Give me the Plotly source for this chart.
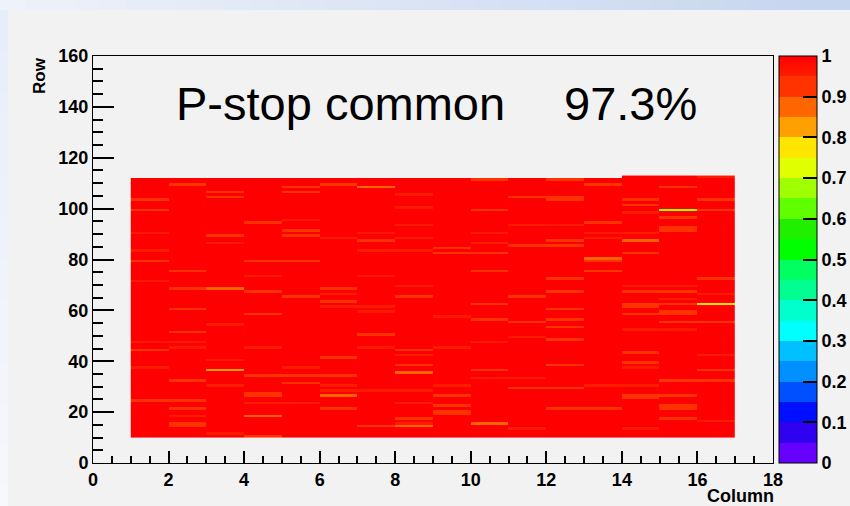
import numpy as np
import plotly.graph_objects as go

# ---------------- data ----------------
columns = list(range(1, 17))          # column bins [c, c+1)
rows = list(range(10, 113))           # row bins [r, r+1)
tall_columns = [14, 15, 16]           # columns that also have row 112

# per column: (row, efficiency) for rows that are not fully efficient (default 1.0)
col01 = [(103, .93), (99, .93), (90, .952), (83, .952), (79, .93), (71, .952), (47, .952), (44, .93), (37, .952), (24, .93)]
col02 = [(109, .93), (75, .93), (68, .93), (60, .93), (51, .93), (47, .952), (45, .952), (32, .93), (24, .93), (21, .93), (18, .952), (15, .93), (14, .93)]
col03 = [(106, .93), (104, .93), (89, .92), (86, .952), (68, .87), (54, .952), (40, .952), (36, .83), (30, .952), (11, .952)]
col04 = [(94, .93), (79, .93), (73, .952), (67, .92), (58, .93), (45, .952), (34, .93), (27, .93), (26, .93), (23, .952), (18, .88), (10, .93)]
col05 = [(108, .93), (106, .93), (95, .952), (91, .93), (89, .93), (79, .93), (65, .93), (37, .952), (34, .93), (31, .93), (23, .952)]
col06 = [(109, .93), (88, .952), (68, .92), (66, .952), (63, .93), (61, .952), (41, .93), (34, .93), (30, .952), (28, .952), (26, .87), (21, .93)]
col07 = [(108, .86), (90, .952), (87, .93), (83, .952), (73, .952), (61, .952), (59, .952), (50, .93), (45, .952), (28, .952), (14, .93)]
col08 = [(105, .952), (100, .952), (93, .952), (88, .952), (83, .952), (69, .952), (65, .92), (44, .93), (42, .952), (38, .93), (35, .88), (28, .952), (23, .952), (17, .93), (15, .952), (14, .87)]
col09 = [(84, .93), (82, .93), (57, .952), (45, .952), (30, .952), (26, .93), (22, .93), (20, .93), (19, .93)]
col10 = [(111, .93), (99, .92), (90, .952), (86, .952), (82, .92), (75, .93), (62, .93), (56, .93), (47, .952), (36, .93), (33, .952), (15, .87)]
col11 = [(104, .93), (93, .952), (85, .93), (65, .93), (55, .93), (49, .952), (33, .952), (29, .93), (13, .952)]
col12 = [(111, .93), (104, .93), (103, .93), (93, .952), (87, .93), (85, .93), (72, .93), (67, .93), (60, .93), (56, .93), (53, .93), (48, .93), (38, .93), (29, .93), (21, .93)]
col13 = [(109, .93), (94, .93), (90, .952), (88, .952), (80, .86), (79, .93), (75, .93), (30, .952), (21, .93)]
col14 = [(103, .93), (101, .93), (98, .952), (90, .952), (87, .87), (82, .93), (69, .952), (67, .93), (62, .93), (61, .93), (58, .93), (52, .952), (43, .93), (39, .93), (37, .952), (30, .952), (26, .93), (25, .93), (13, .952)]
col15 = [(108, .93), (99, .68), (96, .93), (92, .93), (91, .93), (69, .952), (67, .93), (64, .952), (62, .93), (59, .93), (58, .93), (55, .93), (52, .952), (32, .93), (26, .93), (22, .93), (21, .93), (17, .93)]
col16 = [(112, .952), (103, .93), (99, .93), (72, .93), (66, .952), (62, .78), (55, .93), (42, .952), (36, .93), (32, .93), (16, .952)]
column_dips = [col01, col02, col03, col04, col05, col06, col07, col08,
               col09, col10, col11, col12, col13, col14, col15, col16]

x_ticks = list(range(0, 19, 2))
y_ticks = list(range(0, 161, 20))
z_ticks = [round(0.1 * i, 1) for i in range(11)]
z_tick_text = ["0", "0.1", "0.2", "0.3", "0.4", "0.5", "0.6", "0.7", "0.8", "0.9", "1"]

# palette bands, bottom (0-0.05) to top (0.95-1)
bands = ["#6600FF", "#3000F0", "#0010FF", "#0050FF", "#0090FF", "#00C0FF", "#00FFFF",
         "#00FFCC", "#00FF90", "#00FF60", "#00FF00", "#20F000", "#60FF00", "#A0FF00",
         "#E0FF00", "#FFE600", "#FFA000", "#FF6600", "#FF3300", "#FF0000"]

# ---------------- build matrix ----------------
z = np.ones((len(rows), len(columns)))
for j, c in enumerate(columns):
    if c not in tall_columns:
        z[rows.index(112), j] = np.nan
    for r, v in column_dips[j]:
        z[rows.index(r), j] = v

colorscale = []
for i, col in enumerate(bands):
    if i == len(bands) - 1:
        colorscale.append([i / 20, "#FF1C00"])
        colorscale.append([1.0, col])
    else:
        colorscale.append([i / 20, col])
        colorscale.append([(i + 1) / 20, col])

W, H = 850, 506
L, R, T, B = 93, 773, 56, 463   # plot area in px


def px(x):
    return (x - L) / (R - L)


def py(y):
    return (B - y) / (B - T)


FONT = "Liberation Sans, Arial, sans-serif"

fig = go.Figure()
fig.add_trace(go.Heatmap(
    x=[c + 0.5 for c in columns],
    y=[r + 0.5 for r in rows],
    z=z,
    zmin=0, zmax=1,
    colorscale=colorscale,
    hoverongaps=False,
    colorbar=dict(
        thickness=38, thicknessmode="pixels",
        len=1, lenmode="fraction",
        x=px(779), xanchor="left", xpad=0,
        y=0, yanchor="bottom", ypad=0,
        outlinecolor="black", outlinewidth=1,
        ticks="inside", ticklen=14, tickwidth=2, tickcolor="black",
        tickvals=z_ticks, ticktext=z_tick_text,
        tickfont=dict(family=FONT, size=18, color="black", weight="bold"),
        ticklabelposition="outside",
    ),
))

shapes = []
# decorative slide background: top strip gradient and left strip gradient
n = 34
for k in range(n):
    t = k / (n - 1)
    c = (int(238 - 40 * t), int(242 - 28 * t), int(250 - 11 * t))
    shapes.append(dict(type="rect", xref="paper", yref="paper",
                       x0=px(k * W / n), x1=px((k + 1) * W / n + 1),
                       y0=py(10), y1=py(0), line_width=0,
                       fillcolor="rgb(%d,%d,%d)" % c, layer="below"))
m = 24
for k in range(m):
    t = k / (m - 1)
    c = (int(232 + 15 * t), int(238 + 10 * t), int(249 + 3 * t))
    y0 = 10 + k * (H - 10) / m
    shapes.append(dict(type="rect", xref="paper", yref="paper",
                       x0=px(0), x1=px(8),
                       y0=py(y0 + (H - 10) / m + 1), y1=py(y0), line_width=0,
                       fillcolor="rgb(%d,%d,%d)" % c, layer="below"))

annotations = [
    dict(text="P-stop common", x=px(174), y=py(103), xref="paper", yref="paper",
         xanchor="left", yanchor="middle", showarrow=False,
         font=dict(family=FONT, size=47, color="black")),
    dict(text="97.3%", x=px(562), y=py(103), xref="paper", yref="paper",
         xanchor="left", yanchor="middle", showarrow=False,
         font=dict(family=FONT, size=47, color="black")),
    dict(text="Row", x=px(40), y=py(76), xref="paper", yref="paper",
         xanchor="center", yanchor="middle", textangle=-90, showarrow=False,
         font=dict(family=FONT, size=17, color="black", weight="bold")),
    dict(text="Column", x=px(776), y=py(496), xref="paper", yref="paper",
         xanchor="right", yanchor="middle", showarrow=False,
         font=dict(family=FONT, size=18, color="black", weight="bold")),
]

axis_common = dict(
    showgrid=False, zeroline=False, showline=True, linecolor="black", linewidth=1,
    mirror=True, ticks="inside", tickcolor="black", tickwidth=1.5,
    tickfont=dict(family=FONT, size=18, color="black", weight="bold"),
    automargin=False,
)

fig.update_layout(
    width=W, height=H,
    margin=dict(l=L, r=W - R, t=T, b=H - B, autoexpand=False),
    paper_bgcolor="#F2F2F2",
    plot_bgcolor="#F2F2F2",
    xaxis=dict(range=[0, 18], tickvals=x_ticks, ticklen=12,
               minor=dict(dtick=0.5, ticks="inside", ticklen=7, tickcolor="black", tickwidth=1.5),
               **axis_common),
    yaxis=dict(range=[0, 160], tickvals=y_ticks, ticklen=21,
               minor=dict(dtick=5, ticks="inside", ticklen=10, tickcolor="black", tickwidth=1.5),
               **axis_common),
    shapes=shapes,
    annotations=annotations,
    showlegend=False,
)

fig.write_html("out.html")
